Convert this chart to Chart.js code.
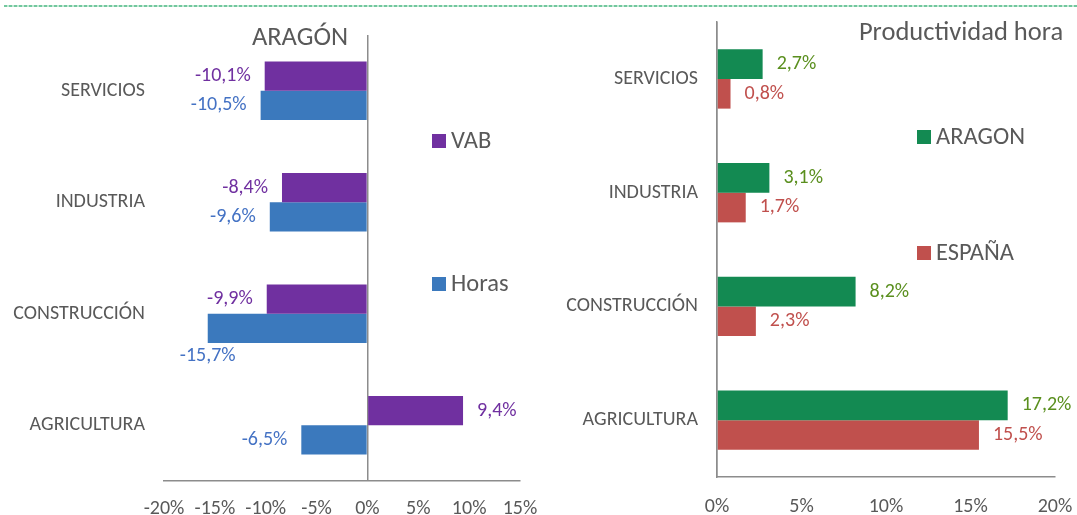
<!DOCTYPE html>
<html>
<head>
<meta charset="utf-8">
<script src="https://cdn.jsdelivr.net/npm/chart.js@4.4.1/dist/chart.umd.min.js"></script>
<style>
  html, body { margin: 0; padding: 0; background: #ffffff; }
  #wrap { position: relative; width: 1077px; height: 515px; overflow: hidden; background: #fff; }
  #dash { position: absolute; left: 4px; right: 0; top: 5px; height: 2px;
          background: repeating-linear-gradient(to right, #72c89e 0 3px, #c4e8d6 3px 5px); }
  #left { position: absolute; left: 0; top: 0; }
  #right { position: absolute; left: 540px; top: 0; }
</style>
</head>
<body>
<div id="wrap">
  <div id="dash"></div>
  <canvas id="left" width="540" height="515"></canvas>
  <canvas id="right" width="537" height="515"></canvas>
</div>
<script>
// ---- data ----
const categories = ['SERVICIOS', 'INDUSTRIA', 'CONSTRUCCIÓN', 'AGRICULTURA'];
const vabValues = [-10.1, -8.4, -9.9, 9.4];
const horasValues = [-10.5, -9.6, -15.7, -6.5];
const aragonValues = [2.7, 3.1, 8.2, 17.2];
const espanaValues = [0.8, 1.7, 2.3, 15.5];
const leftSeriesNames = ['VAB', 'Horas'];
const rightSeriesNames = ['ARAGON', 'ESPAÑA'];
const leftTitle = 'ARAGÓN';
const rightTitle = 'Productividad hora';
const leftRange = [-20, 15];
const rightRange = [0, 20];
const tickStep = 5;

// ---- styles ----
const FONT = 'Calibri, Carlito, Lato, sans-serif';
const TEXT = '#595959';
const AXIS = '#8c8c8c';
const CLEAR = 'rgba(0,0,0,0)';

function fmt(v) { return v.toFixed(1).replace('.', ',') + '%'; }

const valueLabels = {
  id: 'valueLabels',
  afterDatasetsDraw(chart, args, opts) {
    const ctx = chart.ctx;
    ctx.save();
    ctx.font = opts.size + 'px ' + FONT;
    ctx.textBaseline = 'middle';
    chart.data.datasets.forEach((ds, di) => {
      const meta = chart.getDatasetMeta(di);
      meta.data.forEach((bar, i) => {
        const v = ds.data[i];
        const txt = fmt(v);
        const w = ctx.measureText(txt).width;
        let x, y = bar.y, align;
        if (v >= 0) { align = 'left'; x = bar.x + opts.gap; }
        else {
          align = 'right'; x = bar.x - opts.gap;
          if (x - w < chart.chartArea.left) {
            align = 'center'; x = bar.x; y = bar.y + bar.height / 2 + opts.below;
          }
        }
        ctx.fillStyle = ds.labelColor;
        ctx.textAlign = align;
        ctx.fillText(txt, x, y);
      });
    });
    ctx.restore();
  }
};

const decor = {
  id: 'decor',
  afterDraw(chart, args, opts) {
    const ctx = chart.ctx;
    ctx.save();
    ctx.fillStyle = TEXT;
    ctx.font = opts.titleSize + 'px ' + FONT;
    ctx.textAlign = 'center';
    ctx.textBaseline = 'middle';
    ctx.fillText(opts.title, opts.titleX, opts.titleY);
    ctx.font = opts.legendSize + 'px ' + FONT;
    ctx.textAlign = 'left';
    chart.data.datasets.forEach((ds, i) => {
      const y = opts.legendY[i];
      ctx.fillStyle = ds.backgroundColor;
      ctx.fillRect(opts.legendX, y - 7, 14, 14);
      ctx.fillStyle = TEXT;
      ctx.fillText(ds.label, opts.legendX + 19, y + 1);
    });
    ctx.restore();
  }
};

function makeChart(el, cfg) {
  return new Chart(el, {
    type: 'bar',
    data: {
      labels: categories,
      datasets: cfg.datasets
    },
    plugins: [valueLabels, decor],
    options: {
      indexAxis: 'y',
      responsive: false,
      animation: false,
      devicePixelRatio: 1,
      layout: { padding: cfg.padding },
      datasets: { bar: { categoryPercentage: 0.523, barPercentage: 1.0, borderWidth: 0 } },
      plugins: {
        legend: { display: false },
        tooltip: { enabled: false },
        valueLabels: { size: 20, gap: 14, below: 13 },
        decor: cfg.decor
      },
      scales: {
        x: {
          type: 'linear',
          min: cfg.range[0], max: cfg.range[1],
          ticks: { stepSize: tickStep, callback: v => v + '%', color: TEXT,
                   font: { family: FONT, size: 20 }, padding: 0 },
          grid: { drawTicks: true, tickLength: cfg.tickLen, tickColor: CLEAR, lineWidth: 1.5,
                  color: c => (c.tick && c.tick.value === 0) ? AXIS : CLEAR },
          border: { display: true, color: AXIS, width: 1.5 },
          afterFit: s => { s.height = cfg.xHeight; }
        },
        y: {
          type: 'category',
          grid: { display: true, color: CLEAR, drawOnChartArea: false, drawTicks: true,
                  tickLength: 19, tickColor: CLEAR },
          border: { display: cfg.yBorder, color: AXIS, width: 1.5 },
          ticks: { color: TEXT, font: { family: FONT, size: 20 }, padding: 0 },
          afterFit: s => { s.width = cfg.yWidth; }
        }
      }
    }
  });
}

makeChart(document.getElementById('left'), {
  range: leftRange,
  padding: { top: 35, right: 20, left: 0, bottom: 0 },
  xHeight: 34, tickLen: 16, yWidth: 164, yBorder: false,
  datasets: [
    { label: leftSeriesNames[0], data: vabValues, backgroundColor: '#7030a0', labelColor: '#7030a0' },
    { label: leftSeriesNames[1], data: horasValues, backgroundColor: '#3b79bd', labelColor: '#4472c4' }
  ],
  decor: { title: leftTitle, titleSize: 26.5, titleX: 300, titleY: 38,
           legendSize: 24.5, legendX: 432, legendY: [141, 284] }
});

makeChart(document.getElementById('right'), {
  range: rightRange,
  padding: { top: 22, right: 22, left: 0, bottom: 0 },
  xHeight: 38, tickLen: 18, yWidth: 177, yBorder: true,
  datasets: [
    { label: rightSeriesNames[0], data: aragonValues, backgroundColor: '#138a52', labelColor: '#5a8f1e' },
    { label: rightSeriesNames[1], data: espanaValues, backgroundColor: '#c0504d', labelColor: '#c0504d' }
  ],
  decor: { title: rightTitle, titleSize: 26.5, titleX: 421, titleY: 33,
           legendSize: 24.5, legendX: 377, legendY: [137, 253] }
});
</script>
</body>
</html>
